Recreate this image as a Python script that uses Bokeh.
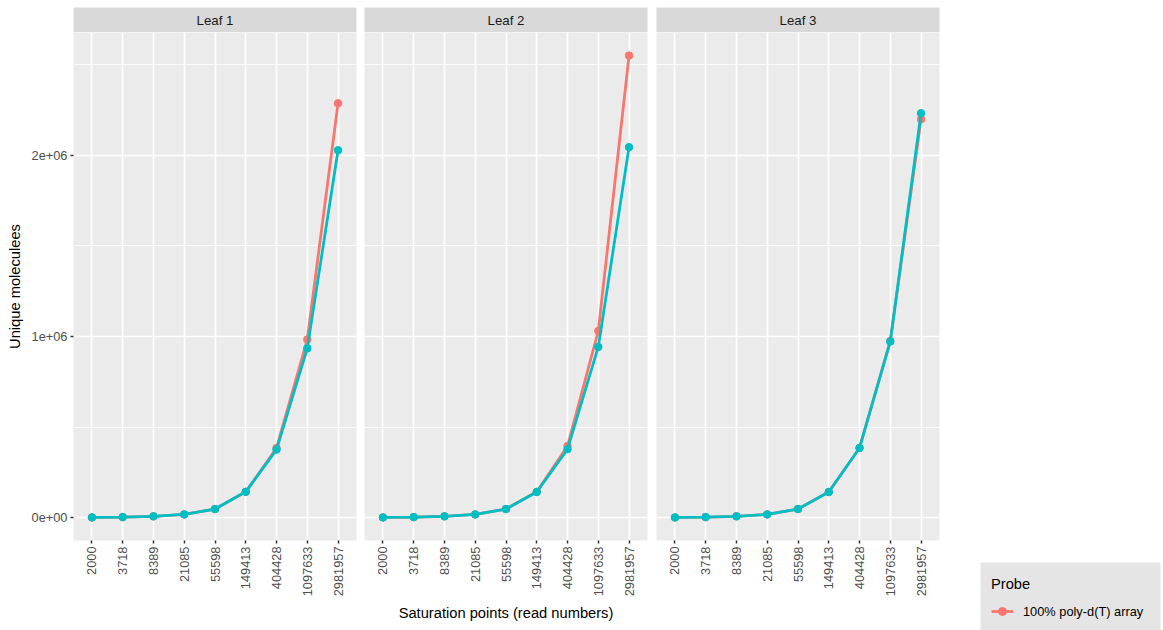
import math
from bokeh.plotting import figure
from bokeh.layouts import row, column
from bokeh.models import Range1d, FixedTicker, Label, Legend, LegendItem, Spacer
from bokeh.embed import file_html
from bokeh.resources import INLINE

# ---- data ----
read_labels = ["2000", "3718", "8389", "21085", "55598", "149413", "404428", "1097633", "2981957"]
positions = [1, 2, 3, 4, 5, 6, 7, 8, 9]
leaves = ["Leaf 1", "Leaf 2", "Leaf 3"]
legend_title = "Probe"
probe_a_name = "100% poly-d(T) array"

leaf1_probe_a = [1900, 3500, 7700, 18500, 48000, 143000, 385000, 983000, 2286000]
leaf1_probe_b = [1900, 3500, 7700, 18500, 48000, 143000, 376000, 934000, 2027000]
leaf2_probe_a = [1900, 3500, 7700, 18500, 48000, 143000, 396000, 1030000, 2549000]
leaf2_probe_b = [1900, 3500, 7700, 18500, 48000, 142000, 378000, 942000, 2044000]
leaf3_probe_a = [1900, 3500, 7700, 18500, 48000, 142000, 385000, 975000, 2198000]
leaf3_probe_b = [1900, 3500, 7700, 18500, 48000, 142000, 385000, 972000, 2231000]

y_ticks = [0, 1000000, 2000000]
y_tick_labels = ["0e+00", "1e+06", "2e+06"]
y_minor = [500000, 1500000, 2500000]

colors = ["#F8766D", "#00BFC4"]
FONT = "Liberation Sans"

all_vals = leaf1_probe_a + leaf1_probe_b + leaf2_probe_a + leaf2_probe_b + leaf3_probe_a + leaf3_probe_b
ymin, ymax = min(all_vals), max(all_vals)
pad = (ymax - ymin) * 0.05
y_range = Range1d(ymin - pad, ymax + pad)

PANEL_W = 283
borders = [(73, 4), (4, 5), (4, 1)]


def make_strip(title, left, right):
    s = figure(width=left + PANEL_W + right, height=32, x_range=Range1d(0, 1), y_range=Range1d(0, 1),
               toolbar_location=None, output_backend="svg", x_axis_location=None, y_axis_location=None,
               min_border_left=left, min_border_right=right, min_border_top=7, min_border_bottom=0,
               background_fill_color="#d9d9d9", outline_line_color=None, border_fill_color="white")
    s.grid.visible = False
    s.add_layout(Label(x=0.5, y=0.5, text=title, text_align="center", text_baseline="middle",
                       text_font=FONT, text_font_size="13.3px", text_color="#1a1a1a"))
    return s


def make_panel(a_vals, b_vals, left, right, show_y, xlabel):
    p = figure(width=left + PANEL_W + right, height=598, x_range=Range1d(0.4, 9.6), y_range=y_range,
               toolbar_location=None, output_backend="svg",
               min_border_left=left, min_border_right=right, min_border_top=0, min_border_bottom=90,
               background_fill_color="#ebebeb", outline_line_color=None, border_fill_color="white")
    p.line(positions, a_vals, line_color=colors[0], line_width=2.8)
    p.scatter(positions, a_vals, size=7.5, fill_color=colors[0], line_color=colors[0])
    p.line(positions, b_vals, line_color=colors[1], line_width=2.8)
    p.scatter(positions, b_vals, size=7.5, fill_color=colors[1], line_color=colors[1])

    p.xaxis.ticker = FixedTicker(ticks=positions)
    p.xaxis.major_label_overrides = {pos: lab for pos, lab in zip(positions, read_labels)}
    p.xaxis.major_label_orientation = math.pi / 2
    p.yaxis.ticker = FixedTicker(ticks=y_ticks, minor_ticks=y_minor)
    p.yaxis.major_label_overrides = {t: l for t, l in zip(y_ticks, y_tick_labels)}

    for ax in (p.xaxis[0], p.yaxis[0]):
        ax.axis_line_color = None
        ax.major_tick_line_color = "#333333"
        ax.major_tick_line_width = 1.5
        ax.major_tick_out = 3
        ax.major_tick_in = 0
        ax.minor_tick_out = 0
        ax.minor_tick_in = 0
        ax.major_label_standoff = 3
        ax.major_label_text_font = FONT
        ax.major_label_text_font_size = "12.8px"
        ax.major_label_text_color = "#4d4d4d"
        ax.axis_label_text_font = FONT
        ax.axis_label_text_font_size = "14.7px"
        ax.axis_label_text_font_style = "normal"
        ax.axis_label_text_color = "black"
        ax.axis_label_standoff = 6

    if show_y:
        p.yaxis.axis_label = "Unique moleculees"
    else:
        p.yaxis.visible = False
    if xlabel:
        p.xaxis.axis_label = xlabel

    p.xgrid.grid_line_color = "white"
    p.xgrid.grid_line_width = 1.6
    p.ygrid.grid_line_color = "white"
    p.ygrid.grid_line_width = 1.6
    p.ygrid.minor_grid_line_color = "white"
    p.ygrid.minor_grid_line_width = 0.8
    return p


data = [(leaf1_probe_a, leaf1_probe_b), (leaf2_probe_a, leaf2_probe_b), (leaf3_probe_a, leaf3_probe_b)]
cols = []
for i, (leaf, (a, b)) in enumerate(zip(leaves, data)):
    left, right = borders[i]
    s = make_strip(leaf, left, right)
    p = make_panel(a, b, left, right, i == 0, "Saturation points (read numbers)" if i == 1 else None)
    cols.append(column(s, p, spacing=0))

# legend box (bottom right; the grey box runs to the window's lower edge as in the reference)
lf = figure(width=223, height=68, x_range=Range1d(0.4, 9.6), y_range=y_range,
            toolbar_location=None, output_backend="svg", x_axis_location=None, y_axis_location=None,
            min_border_left=40, min_border_right=3, min_border_top=0, min_border_bottom=0,
            background_fill_color="#e5e5e5", outline_line_color=None, border_fill_color="white")
lf.grid.visible = False
key_l = lf.line(positions, leaf1_probe_a, line_color=colors[0], line_width=2.8, visible=False)
key_c = lf.scatter(positions, leaf1_probe_a, size=7.5, fill_color=colors[0], line_color=colors[0], visible=False)
legend = Legend(items=[LegendItem(label=probe_a_name, renderers=[key_l, key_c])],
                location=(11, 9), title=legend_title,
                background_fill_alpha=0.0, border_line_color=None,
                title_text_font=FONT, title_text_font_size="14.7px", title_text_color="black",
                title_text_font_style="normal", title_standoff=9,
                label_text_font=FONT, label_text_font_size="12.8px", label_text_color="black",
                glyph_width=22, glyph_height=20, label_standoff=10, spacing=4, padding=11, margin=0)
lf.add_layout(legend, "center")
legend_col = column(Spacer(width=223, height=562), lf, spacing=0)

layout = row(*cols, legend_col, spacing=0)
open("out.html", "w").write(file_html(layout, INLINE))
